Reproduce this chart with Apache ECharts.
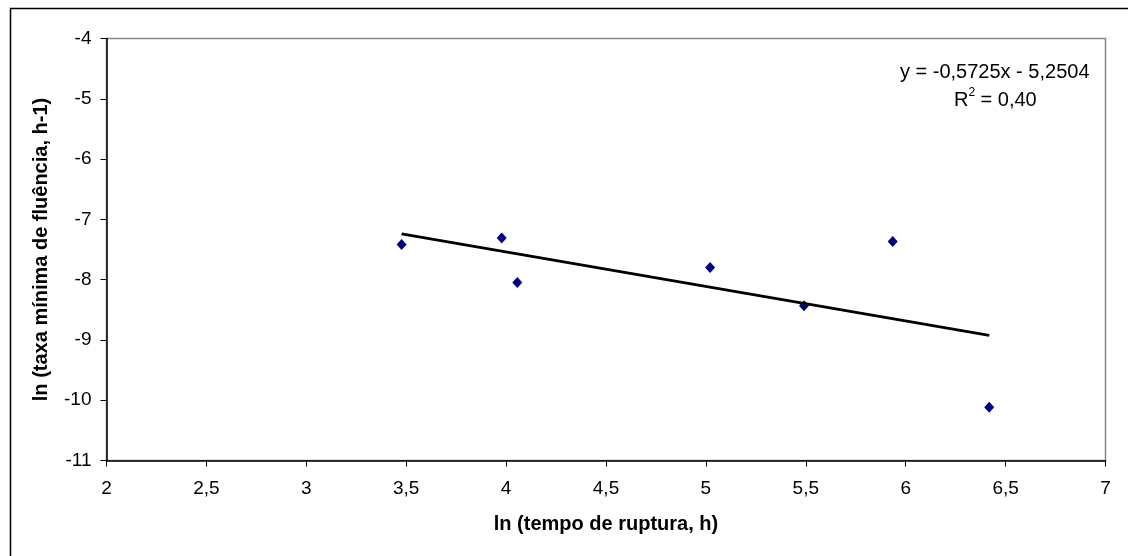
<!DOCTYPE html>
<html>
<head>
<meta charset="utf-8">
<script src="https://cdn.jsdelivr.net/npm/echarts@6/dist/echarts.min.js"></script>
<style>
html,body{margin:0;padding:0;background:#fff;}
#chart{width:1128px;height:556px;}
</style>
</head>
<body>
<div id="chart"></div>
<script>
// Data
const lnRuptureTime = [3.477, 3.978, 4.056, 5.021, 5.491, 5.935, 6.418];
const lnMinCreepRate = [-7.415, -7.311, -8.047, -7.797, -8.435, -7.366, -10.118];
const trendSlope = -0.5725;
const trendIntercept = -5.2504;
const trendR2Label = '0,40';
const xTicks = [2, 2.5, 3, 3.5, 4, 4.5, 5, 5.5, 6, 6.5, 7];
const yTicks = [-4, -5, -6, -7, -8, -9, -10, -11];

const points = lnRuptureTime.map((x, i) => [x, lnMinCreepRate[i]]);
const xMinData = Math.min(...lnRuptureTime);
const xMaxData = Math.max(...lnRuptureTime);
const trendLine = [
  [xMinData, trendSlope * xMinData + trendIntercept],
  [xMaxData, trendSlope * xMaxData + trendIntercept]
];
const fmt = v => String(v).replace('.', ',');

const chart = echarts.init(document.getElementById('chart'), null, {renderer: 'canvas'});
const FONT = 'Liberation Sans, Arial, sans-serif';
chart.setOption({
  backgroundColor: '#fff',
  animation: false,
  grid: {left: 106.5, right: 22.5, top: 38.5, bottom: 95.5, show: true, borderColor: '#888', borderWidth: 1.5, backgroundColor: '#fff'},
  xAxis: {
    type: 'value', min: 2, max: 7, interval: 0.5,
    name: 'ln (tempo de ruptura, h)', nameLocation: 'middle', nameGap: 64,
    nameTextStyle: {fontFamily: FONT, fontSize: 20, fontWeight: 'bold', color: '#000', verticalAlign: 'middle'},
    axisLine: {show: true, lineStyle: {color: '#000', width: 1.5}},
    axisTick: {show: true, length: 6, lineStyle: {color: '#000', width: 1}},
    axisLabel: {margin: 19, fontFamily: FONT, fontSize: 19, color: '#000', formatter: v => fmt(v)},
    splitLine: {show: false}
  },
  yAxis: {
    type: 'value', min: -11, max: -4, interval: 1,
    name: 'ln (taxa mínima de fluência, h-1)', nameLocation: 'middle', nameGap: 65, nameRotate: 90,
    nameTextStyle: {fontFamily: FONT, fontSize: 20, fontWeight: 'bold', color: '#000', verticalAlign: 'middle'},
    axisLine: {show: true, lineStyle: {color: '#000', width: 1.5}},
    axisTick: {show: true, length: 6, lineStyle: {color: '#000', width: 1}},
    axisLabel: {margin: 15, fontFamily: FONT, fontSize: 19, color: '#000', formatter: v => fmt(v)},
    splitLine: {show: false}
  },
  graphic: [
    {type: 'rect', left: 8, top: 6, shape: {x: 0, y: 0, width: 1140, height: 570}, style: {fill: 'none', stroke: '#000', lineWidth: 1.5}, z: 100, silent: true},
    {type: 'text', z: 100, style: {x: 1089.5, y: 72, align: 'right', verticalAlign: 'middle', text: 'y = ' + fmt(trendSlope) + 'x - ' + fmt(-trendIntercept), font: '20px ' + FONT, fill: '#000'}},
    {type: 'text', z: 100, style: {x: 954, y: 100.5, align: 'left', verticalAlign: 'middle', text: 'R', font: '20px ' + FONT, fill: '#000'}},
    {type: 'text', z: 100, style: {x: 968.5, y: 93, align: 'left', verticalAlign: 'middle', text: '2', font: '12px ' + FONT, fill: '#000'}},
    {type: 'text', z: 100, style: {x: 975, y: 100.5, align: 'left', verticalAlign: 'middle', text: ' = ' + trendR2Label, font: '20px ' + FONT, fill: '#000'}}
  ],
  series: [
    {
      type: 'scatter', data: points, symbol: 'diamond', symbolSize: [10, 11],
      itemStyle: {color: '#000080', opacity: 1}, z: 3
    },
    {
      type: 'line', data: trendLine, symbol: 'none',
      lineStyle: {color: '#000', width: 3}, z: 4
    }
  ]
});
</script>
</body>
</html>
